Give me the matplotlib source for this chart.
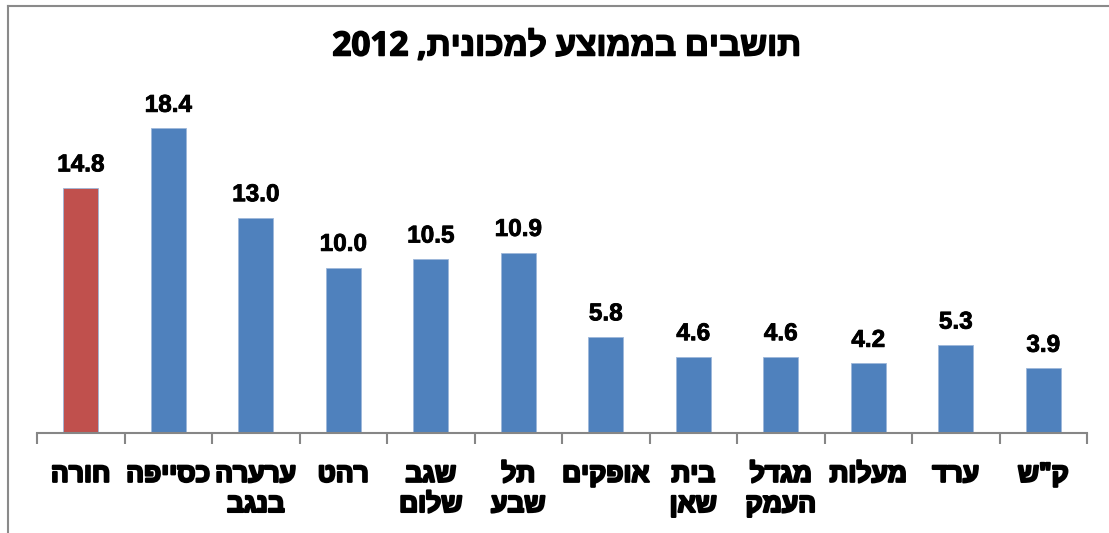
import re
import matplotlib
matplotlib.use("Agg")
import matplotlib.pyplot as plt
from matplotlib.lines import Line2D
import matplotlib.patheffects as pe

plt.rcParams['font.family'] = ['Liberation Sans', 'DejaVu Sans']
HEB = ['Open Sans', 'Liberation Sans', 'DejaVu Sans']

title = "תושבים בממוצע למכונית, 2012"
categories = ["חורה", "כסייפה", "ערערה\nבנגב", "רהט", "שגב\nשלום", "תל\nשבע",
              "אופקים", "בית\nשאן", "מגדל\nהעמק", "מעלות", "ערד", 'ק"ש']
values = [14.8, 18.4, 13.0, 10.0, 10.5, 10.9, 5.8, 4.6, 4.6, 4.2, 5.3, 3.9]
colors = ["#C0504D"] + ["#4F81BD"] * 11


def visual(s):
    """Reorder a logical RTL string for left-to-right rendering."""
    out = []
    for line in s.split("\n"):
        r = line[::-1]
        r = re.sub(r"[0-9A-Za-z.]+", lambda m: m.group(0)[::-1], r)
        out.append(r)
    return "\n".join(out)


W, H = 1109, 533
fig = plt.figure(figsize=(W / 100, H / 100), dpi=100)
fig.patch.set_facecolor("white")

x0, x1 = 37, 1087
ybase, ytop = 433, 100
ax = fig.add_axes([x0 / W, 1 - ybase / H, (x1 - x0) / W, (ybase - ytop) / H])
ax.set_xlim(-0.5, len(values) - 0.5)
ax.set_ylim(0, (ybase - ytop) / 16.55)

pos = list(range(len(values)))
bars = ax.bar(pos, values, width=0.4, color=colors, edgecolor="#9db7da", linewidth=0.6)
for b, v in zip(bars, values):
    ax.annotate(f"{v:.1f}", (b.get_x() + b.get_width() / 2, v), xytext=(0, 12),
                textcoords="offset points", ha="center", va="baseline",
                fontsize=17.5, fontweight="bold", color="black",
                path_effects=[pe.withStroke(linewidth=0.6, foreground="black")])

for s in ["top", "right", "left"]:
    ax.spines[s].set_visible(False)
ax.spines["bottom"].set_color("#868686")
ax.spines["bottom"].set_linewidth(1.5)
ax.set_yticks([])
ax.set_xticks(pos)
ax.set_xticklabels([visual(c) for c in categories], fontsize=19, fontweight="bold",
                   linespacing=1.15, family=HEB)
for t in ax.get_xticklabels():
    t.set_path_effects([pe.withStroke(linewidth=1.6, foreground="black")])
ax.tick_params(axis="x", which="major", length=0, pad=20)
ax.set_xticks([p - 0.5 for p in pos] + [len(values) - 0.5], minor=True)
ax.tick_params(axis="x", which="minor", length=8, width=1.5, color="#868686")

fig.text(567 / W, 1 - 47 / H, visual(title), ha="center", va="center",
         fontsize=24, fontweight="bold", family=HEB,
         path_effects=[pe.withStroke(linewidth=1.1, foreground="black")])

fig.add_artist(Line2D([8 / W, 1], [1 - 6 / H, 1 - 6 / H], color="#8a8a8a", lw=1.5,
                      transform=fig.transFigure))
fig.add_artist(Line2D([8 / W, 8 / W], [0, 1 - 6 / H], color="#8a8a8a", lw=1.5,
                      transform=fig.transFigure))

fig.savefig("out.png", dpi=100)
